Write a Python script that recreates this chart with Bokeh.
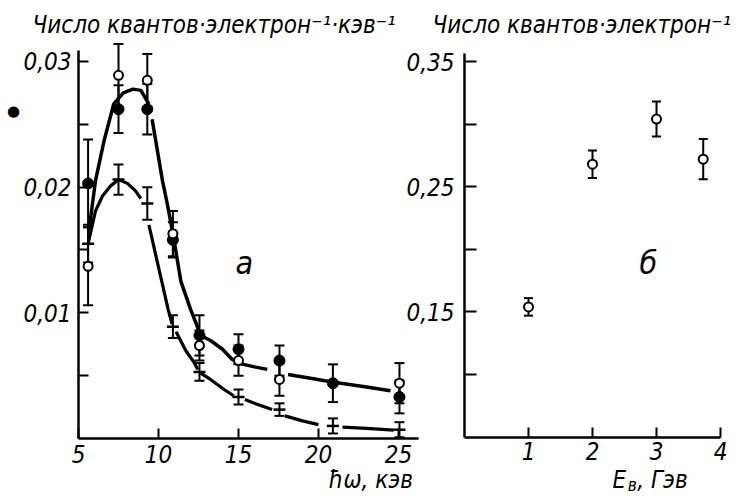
from bokeh.plotting import figure
from bokeh.models import (ColumnDataSource, Whisker, TeeHead, FixedTicker,
                          CustomJSTickFormatter, Label, Range1d, LinearAxis)
from bokeh.embed import file_html
from bokeh.resources import INLINE

NaN = float("nan")
FONT = "'Liberation Sans Narrow', 'DejaVu Sans Condensed', 'Roboto', sans-serif"

# ---------------- panel a (photon energy, keV) ----------------
filled_x = [5.6, 7.5, 9.3, 10.9, 12.56, 15.0, 17.56, 20.9, 25.06]
filled_y = [0.0203, 0.0262, 0.0262, 0.0158, 0.0082, 0.0071, 0.0062, 0.0044, 0.0033]
filled_err = [0.0035, 0.0019, 0.0020, 0.0014, 0.0016, 0.0012, 0.0012, 0.0015, 0.0013]

open_x = [5.6, 7.5, 9.3, 10.9, 12.56, 15.0, 17.56, 25.06]
open_y = [0.0137, 0.0289, 0.0285, 0.0163, 0.0074, 0.0062, 0.0047, 0.0044]
open_err = [0.0031, 0.0025, 0.0021, 0.0018, 0.0012, 0.0012, 0.0013, 0.0016]

cross_x = [5.6, 7.5, 9.3, 10.9, 12.56, 15.0, 17.56, 20.9, 25.06]
cross_y = [0.0155, 0.0206, 0.0187, 0.0089, 0.0053, 0.0033, 0.0023, 0.0010, 0.0007]
cross_err = [0.0015, 0.0012, 0.0013, 0.0009, 0.0007, 0.0006, 0.0005, 0.0006, 0.0006]

upper_curve_x = [5.65, 6.06, 6.6, 7.2, 7.8, 8.4, 8.9, 9.4, NaN,
                 9.6, 10.25, 10.56, 10.9, 11.4, 12.0, 12.4, 12.63, 13.25, 14.0, 14.6,
                 15.3, 16.0, 16.8, NaN,
                 18.1, 18.56, 19.5, 20.4, 21.4, 23.0, 24.5]
upper_curve_y = [0.0165, 0.0205, 0.0237, 0.0266, 0.0275, 0.0278, 0.0277, 0.0266, NaN,
                 0.0254, 0.0205, 0.0186, 0.0163, 0.0125, 0.0103, 0.0090, 0.0082, 0.0078, 0.0071, 0.0063,
                 0.0059, 0.0057, 0.0055, NaN,
                 0.0051, 0.0050, 0.0048, 0.0046, 0.0044, 0.0041, 0.0038]

lower_curve_x = [5.6, 6.06, 6.5, 7.0, 7.5, 8.06, 8.56, 8.9, NaN,
                 9.4, 9.9, 10.6, 10.85, NaN,
                 11.1, 11.7, 12.2, 12.45, NaN,
                 12.63, 13.25, 14.1, 14.7, NaN,
                 15.4, 16.2, 17.1, NaN,
                 17.9, 19.0, 20.0, NaN,
                 21.5, 23.0, 24.7]
lower_curve_y = [0.0155, 0.0181, 0.0193, 0.0201, 0.0206, 0.0203, 0.0197, 0.0191, NaN,
                 0.0170, 0.0142, 0.0103, 0.0091, NaN,
                 0.0085, 0.0070, 0.0061, 0.0055, NaN,
                 0.0052, 0.0047, 0.0039, 0.0034, NaN,
                 0.0031, 0.0027, 0.0023, NaN,
                 0.0018, 0.0014, 0.0011, NaN,
                 0.0009, 0.0008, 0.00066]

a_xticks = [5, 10, 15, 20, 25]
a_xlabels = ["5", "10", "15", "20", "25"]
a_yticks = [0.005, 0.01, 0.015, 0.02, 0.025, 0.03]
a_ylabels = ["", "0,01", "", "0,02", "", "0,03"]

# ---------------- panel b (electron energy, GeV) ----------------
b_x = [1, 2, 3, 3.73]
b_y = [0.154, 0.268, 0.304, 0.272]
b_err = [0.007, 0.011, 0.014, 0.016]

b_xticks = [1, 2, 3, 4]
b_xlabels = ["1", "2", "3", "4"]
b_yticks = [0.10, 0.15, 0.20, 0.25, 0.30, 0.35]
b_ylabels = ["", "0,15", "", "0,25", "", "0,35"]

title_a = "Число квантов·электрон⁻¹·кэв⁻¹"
title_b = "Число квантов·электрон⁻¹"
xlabel_a = "ħω, кэв"
xlabel_b = ["E", "в", ", Гэв"]


def fmt(vals, labs):
    return CustomJSTickFormatter(args=dict(vals=vals, labs=labs), code="""
        for (let i = 0; i < vals.length; i++) {
            if (Math.abs(vals[i] - tick) < 1e-9) return labs[i];
        }
        return '';
    """)


def make_axis(ticks, labels, loc, bounds, tick_len, standoff, rn=None):
    kw = {}
    if rn:
        kw = dict(x_range_name=rn[0], y_range_name=rn[1])
    ax = LinearAxis(ticker=FixedTicker(ticks=ticks), formatter=fmt(ticks, labels),
                    fixed_location=loc, bounds=bounds, **kw)
    ax.axis_line_width = 2.5
    ax.axis_line_color = "black"
    ax.major_tick_in = tick_len
    ax.major_tick_out = 0
    ax.major_tick_line_width = 2
    ax.major_tick_line_color = "black"
    ax.minor_tick_line_color = None
    ax.major_label_text_font = FONT
    ax.major_label_text_font_style = "italic"
    ax.major_label_text_font_size = "24px"
    ax.major_label_text_color = "black"
    ax.major_label_standoff = standoff
    return ax


def errbars(p, xs, ys, errs, head=10, **rn):
    src = ColumnDataSource(dict(x=xs, up=[y + e for y, e in zip(ys, errs)],
                                lo=[y - e for y, e in zip(ys, errs)]))
    w = Whisker(base="x", upper="up", lower="lo", source=src, dimension="height",
                line_width=2, line_color="black",
                upper_head=TeeHead(size=head, line_width=2, line_color="black"),
                lower_head=TeeHead(size=head, line_width=2, line_color="black"), **rn)
    p.add_layout(w)


def text(p, x, y, s, size, **kw):
    p.add_layout(Label(x=x, y=y, text=s, text_font=kw.pop("font", FONT),
                       text_font_style=kw.pop("style", "italic"), text_font_size=size,
                       text_color="black", text_baseline=kw.pop("baseline", "alphabetic"), **kw))


W, H = 749, 498
p = figure(width=W, height=H, output_backend="svg", toolbar_location=None,
           x_range=Range1d(5 + (0 - 78) / 16, 5 + (W - 78) / 16),
           y_range=Range1d((438 - H) / 12567, 438 / 12567),
           x_axis_type=None, y_axis_type=None, min_border=0,
           background_fill_color="white", border_fill_color="white")
p.extra_x_ranges = {"xb": Range1d((0 - 464) / 64, (W - 464) / 64)}
p.extra_y_ranges = {"yb": Range1d(0.35 - (H - 61) / 1252, 0.35 + 61 / 1252)}
p.xgrid.visible = False
p.ygrid.visible = False
p.outline_line_color = None

# axes of panel a
p.add_layout(make_axis(a_xticks, a_xlabels, 0, (5, 26.25), 10, 6), "below")
p.add_layout(make_axis(a_yticks, a_ylabels, 5, (0, 0.0309), 10, 7), "left")
# axes of panel b
p.add_layout(make_axis(b_xticks, b_xlabels, 0.05, (0, 4.0), 10, 5, ("xb", "yb")), "below")
p.add_layout(make_axis(b_yticks, b_ylabels, 0, (0.05, 0.356), 12, 10, ("xb", "yb")), "left")

# panel a data
p.line(upper_curve_x, upper_curve_y, line_width=3.5, line_color="black")
p.line(lower_curve_x, lower_curve_y, line_width=3.2, line_color="black")
errbars(p, filled_x, filled_y, filled_err)
errbars(p, open_x, open_y, open_err)
errbars(p, cross_x, cross_y, cross_err)
p.scatter(cross_x, cross_y, marker="dash", size=12, line_width=2.5, line_color="black")
p.scatter(filled_x, filled_y, marker="circle", size=11, fill_color="black", line_color="black")
p.scatter(open_x, open_y, marker="circle", size=9, fill_color="white", line_color="black",
          line_width=2)

text(p, 2.125, 0.03294, title_a, "24px")
text(p, 14.81, 0.01400, "a", "32px")
text(p, 20.625, -0.00334, xlabel_a, "24px")
text(p, 0.9375, 0.02610, "●", "15px", font="DejaVu Sans", style="normal",
     baseline="middle", text_align="center")

# panel b data
rb = dict(x_range_name="xb", y_range_name="yb")
errbars(p, b_x, b_y, b_err, head=9, **rb)
p.scatter(b_x, b_y, marker="circle", size=9, fill_color="white", line_color="black",
          line_width=2, **rb)

text(p, -0.5, 0.37955, title_b, "24px", **rb)
text(p, 2.734, 0.18866, "б", "32px", **rb)
text(p, 2.3125, 0.01534, xlabel_b[0], "24px", **rb)
text(p, 2.55, 0.01214, xlabel_b[1], "17px", **rb)
text(p, 2.70, 0.01534, xlabel_b[2], "24px", **rb)

open("out.html", "w").write(file_html(p, INLINE))
